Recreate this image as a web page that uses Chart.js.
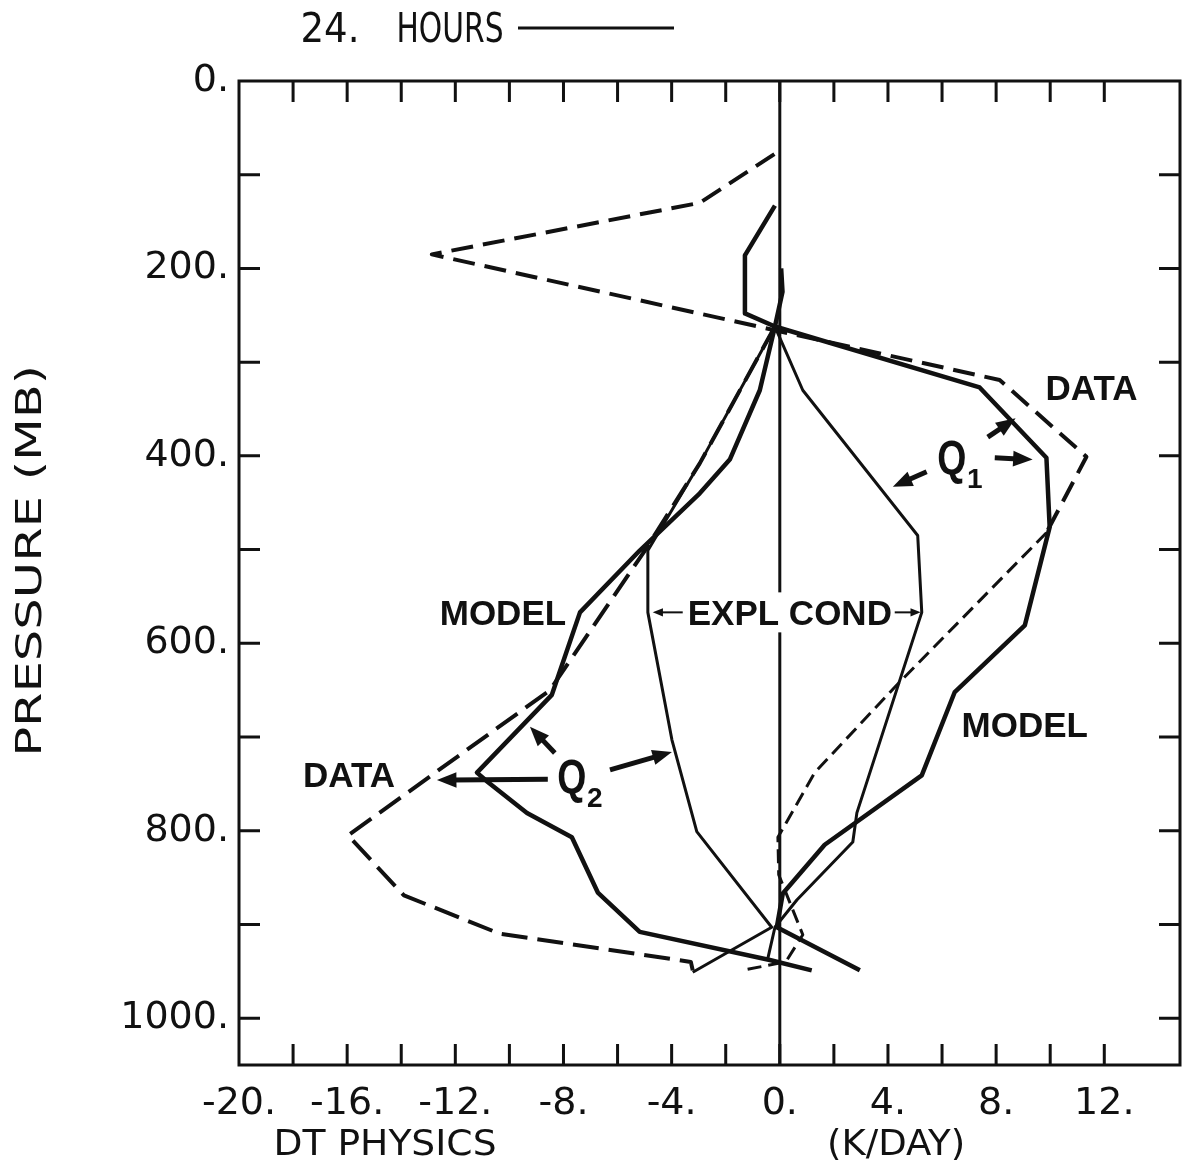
<!DOCTYPE html>
<html>
<head>
<meta charset="utf-8">
<script src="https://cdn.jsdelivr.net/npm/chart.js@4.4.1/dist/chart.umd.min.js"></script>
<style>
  html, body { margin: 0; padding: 0; background: #fff; }
</style>
</head>
<body>
<canvas id="chart" width="1183" height="1173"></canvas>
<script>
// heating / drying rates (K/day) against pressure (mb), 24 hour run
const q1DataRate = [-0.2, -2.96, -12.87, 8.13, 11.34, 9.86, 4.31, 1.29, -0.07, -0.04, 0.85, 0.22, -1.4];
const q1DataLevel = [78, 130, 185, 319, 401, 482, 645, 738, 807, 847, 911, 940, 949];

const q1ModelRate = [-0.18, -1.29, -1.29, -0.18, 7.39, 9.86, 9.98, 9.06, 6.47, 5.25, 1.66, 0.11, -0.11, 2.96];
const q1ModelLevel = [133, 186, 248, 262, 327, 402, 476, 581, 652, 741, 815, 867, 903, 949];

const q1CondRate = [-0.18, 0.85, 5.1, 5.25, 2.85, 2.7, 0.63, -0.18, -0.44];
const q1CondLevel = [262, 330, 485, 567, 781, 812, 874, 903, 936];

const q2DataRate = [-0.18, -2.96, -4.99, -8.5, -15.97, -13.9, -10.35, -3.29, -3.22];
const q2DataLevel = [262, 408, 501, 650, 805, 869, 910, 940, 949];

const q2ModelRate = [0.05, 0.1, -0.18, -0.74, -1.85, -2.96, -5.18, -7.39, -8.43, -11.2, -10.8, -9.35, -7.69, -6.73, -5.18, -0.37, 1.18];
const q2ModelLevel = [200, 225, 262, 330, 404, 440, 501, 567, 655, 738, 748, 781, 807, 866, 908, 938, 949];

const q2CondRate = [-0.18, -2.96, -4.88, -4.88, -3.99, -3.07, -0.3, -3.22];
const q2CondLevel = [262, 408, 501, 567, 703, 801, 903, 951];

const zeroRate = [0, 0];
const zeroLevel = [0, 1050];

const rateLabels = [-20, -16, -12, -8, -4, 0, 4, 8, 12];
const levelLabels = [0, 200, 400, 600, 800, 1000];

// annotations, in axis units
const words = [
  { text: "DATA", x: 11.53, p: 327 },
  { text: "MODEL", x: -10.24, p: 567 },
  { text: "MODEL", x: 9.06, p: 686 },
  { text: "DATA", x: -15.93, p: 740 }
];
const qMarks = [
  { sub: "1", x: 6.36, p: 402 },
  { sub: "2", x: -7.69, p: 743 }
];
const pointers = [
  [7.69, 380, 8.72, 360],
  [7.95, 402, 9.35, 404],
  [5.43, 417, 4.18, 433],
  [-8.58, 745, -12.68, 746],
  [-8.32, 717, -9.24, 689],
  [-6.28, 735, -3.99, 716]
];
const condLabel = { x: 0.37, p: 567, left: [-3.59, -4.7], right: [4.25, 5.21] };

function pts(xs, ps) {
  return xs.map((v, i) => ({ x: v, y: ps[i] }));
}

function line(data, width, dash) {
  return {
    data: data,
    showLine: true,
    borderColor: "#111",
    borderWidth: width,
    borderDash: dash || [],
    borderJoinStyle: "round",
    pointRadius: 0,
    fill: false,
    tension: 0
  };
}

function arrow(ctx, x1, y1, x2, y2, width, head) {
  const ang = Math.atan2(y2 - y1, x2 - x1);
  ctx.lineWidth = width;
  ctx.beginPath();
  ctx.moveTo(x1, y1);
  ctx.lineTo(x2 - Math.cos(ang) * head * 0.7, y2 - Math.sin(ang) * head * 0.7);
  ctx.stroke();
  ctx.beginPath();
  ctx.moveTo(x2, y2);
  ctx.lineTo(x2 - head * Math.cos(ang - 0.38), y2 - head * Math.sin(ang - 0.38));
  ctx.lineTo(x2 - head * Math.cos(ang + 0.38), y2 - head * Math.sin(ang + 0.38));
  ctx.closePath();
  ctx.fill();
}

// plotter lettering is wider than the screen font, so stretch it to a set width
function stretchText(ctx, text, x, y, width, rotate) {
  const w = ctx.measureText(text).width;
  ctx.save();
  ctx.translate(x, y);
  if (rotate) ctx.rotate(-Math.PI / 2);
  ctx.scale(width / w, 1);
  ctx.textAlign = "center";
  ctx.fillText(text, 0, 0);
  ctx.restore();
}

const PLOT_FONT = '"DejaVu Sans Condensed", "DejaVu Sans", sans-serif';
const BOLD_FONT = '"Liberation Sans", Arial, sans-serif';

// box with inward ticks on all four sides
const frame = {
  id: "frame",
  afterDatasetsDraw(chart) {
    const { ctx, chartArea: a, scales } = chart;
    ctx.save();
    ctx.strokeStyle = "#111";
    ctx.lineWidth = 3;
    ctx.strokeRect(a.left, a.top, a.right - a.left, a.bottom - a.top);
    ctx.beginPath();
    scales.x.ticks.forEach((t) => {
      if (t.value <= scales.x.min || t.value >= scales.x.max) return;
      const px = scales.x.getPixelForValue(t.value);
      ctx.moveTo(px, a.top);
      ctx.lineTo(px, a.top + 21);
      ctx.moveTo(px, a.bottom);
      ctx.lineTo(px, a.bottom - 21);
    });
    scales.y.ticks.forEach((t) => {
      if (t.value <= scales.y.min || t.value >= scales.y.max) return;
      const py = scales.y.getPixelForValue(t.value);
      ctx.moveTo(a.left, py);
      ctx.lineTo(a.left + 21, py);
      ctx.moveTo(a.right, py);
      ctx.lineTo(a.right - 21, py);
    });
    ctx.stroke();
    ctx.restore();
  },
  afterDraw(chart) {
    const { ctx, chartArea: a, scales } = chart;
    const X = (v) => scales.x.getPixelForValue(v);
    const Y = (v) => scales.y.getPixelForValue(v);
    ctx.save();
    ctx.fillStyle = "#111";
    ctx.strokeStyle = "#111";
    ctx.textBaseline = "alphabetic";

    // run length caption above the frame
    ctx.font = "40px " + PLOT_FONT;
    stretchText(ctx, "24.", 330, 42, 59);
    stretchText(ctx, "HOURS", 450, 42, 107);
    ctx.lineWidth = 3;
    ctx.beginPath();
    ctx.moveTo(518, 28);
    ctx.lineTo(674, 28);
    ctx.stroke();

    // axis captions
    ctx.font = "35px " + PLOT_FONT;
    stretchText(ctx, "DT PHYSICS", X(-14.6), a.bottom + 90, 223);
    stretchText(ctx, "(K/DAY)", X(4.3), a.bottom + 90, 138);
    ctx.font = "36px " + PLOT_FONT;
    stretchText(ctx, "PRESSURE (MB)", 41, Y(512), 392, true);

    // curve labels
    ctx.font = "bold 35px " + BOLD_FONT;
    ctx.textAlign = "center";
    words.forEach((w) => ctx.fillText(w.text, X(w.x), Y(w.p) + 13));

    // explicit condensation label sits on a white patch over the zero line
    const cx = X(condLabel.x), cy = Y(condLabel.p);
    const tw = ctx.measureText("EXPL COND").width;
    ctx.fillStyle = "#fff";
    ctx.fillRect(cx - tw / 2 - 4, cy - 20, tw + 8, 40);
    ctx.fillStyle = "#111";
    ctx.fillText("EXPL COND", cx, cy + 13);
    arrow(ctx, X(condLabel.left[0]), cy, X(condLabel.left[1]), cy, 2, 11);
    arrow(ctx, X(condLabel.right[0]), cy, X(condLabel.right[1]), cy, 2, 11);

    // Q1 / Q2 markers with subscripts
    qMarks.forEach((q) => {
      const qx = X(q.x), qy = Y(q.p);
      ctx.save();
      ctx.translate(qx, qy + 16);
      ctx.scale(0.78, 1);
      ctx.font = "bold 48px " + BOLD_FONT;
      ctx.fillText("Q", 0, 0);
      ctx.restore();
      ctx.font = "bold 28px " + BOLD_FONT;
      ctx.fillText(q.sub, qx + 23, qy + 30);
    });

    pointers.forEach((p) => arrow(ctx, X(p[0]), Y(p[1]), X(p[2]), Y(p[3]), 5, 21));
    ctx.restore();
  }
};

// the lower part of the Q1 observed profile is plotted with a finer dash
const q1Data = line(pts(q1DataRate, q1DataLevel), 4, [22, 10]);
q1Data.segment = {
  borderDash: (c) => (c.p0.parsed.y >= 482 ? [14, 7] : undefined),
  borderWidth: (c) => (c.p0.parsed.y >= 482 ? 3 : undefined)
};

new Chart(document.getElementById("chart"), {
  type: "scatter",
  data: {
    datasets: [
      line(pts(zeroRate, zeroLevel), 3),
      q1Data,
      line(pts(q1ModelRate, q1ModelLevel), 4.5),
      line(pts(q1CondRate, q1CondLevel), 3),
      line(pts(q2DataRate, q2DataLevel), 4, [26, 10]),
      line(pts(q2ModelRate, q2ModelLevel), 4.5),
      line(pts(q2CondRate, q2CondLevel), 3)
    ]
  },
  options: {
    responsive: false,
    animation: false,
    devicePixelRatio: 1,
    layout: { padding: { top: 81, right: 3, left: 0, bottom: 0 } },
    plugins: { legend: { display: false }, tooltip: { enabled: false }, title: { display: false } },
    scales: {
      x: {
        type: "linear",
        min: -20,
        max: 14.8,
        grid: { display: false, drawTicks: false },
        border: { display: false },
        ticks: {
          stepSize: 2,
          autoSkip: false,
          maxRotation: 0,
          padding: 16,
          color: "#111",
          font: { family: '"DejaVu Sans", sans-serif', size: 38 },
          callback: (v) => (rateLabels.includes(v) ? v + "." : "")
        },
        afterFit: (scale) => {
          scale.height = 108;
          scale.paddingLeft = 0;
          scale.paddingRight = 0;
        }
      },
      y: {
        type: "linear",
        reverse: true,
        min: 0,
        max: 1050,
        grid: { display: false, drawTicks: false },
        border: { display: false },
        ticks: {
          stepSize: 100,
          autoSkip: false,
          padding: 10,
          color: "#111",
          font: { family: '"DejaVu Sans", sans-serif', size: 38 },
          callback: (v) => (levelLabels.includes(v) ? v + "." : "")
        },
        afterFit: (scale) => { scale.width = 239; }
      }
    }
  },
  plugins: [frame]
});
</script>
</body>
</html>
